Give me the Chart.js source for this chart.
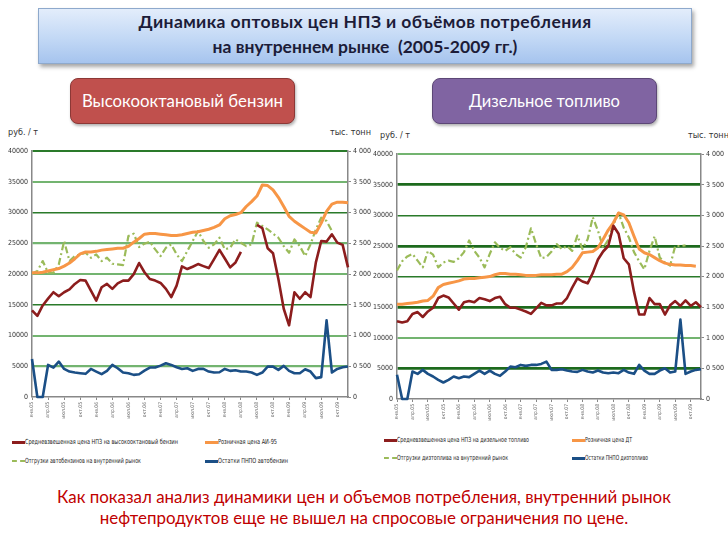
<!DOCTYPE html>
<html><head><meta charset="utf-8">
<script src="https://cdn.jsdelivr.net/npm/chart.js@4.4.1/dist/chart.umd.min.js"></script>
<style>
html,body{margin:0;padding:0;background:#fff;}
body{width:728px;height:546px;position:relative;overflow:hidden;font-family:Lato,"Open Sans",sans-serif;}
.abs{position:absolute;}
#title{left:38px;top:8px;width:654px;height:56px;box-sizing:border-box;border:1px solid #8ea9cc;background:linear-gradient(#e3edfb,#c2d8f5 55%,#a6c4ee);box-shadow:2px 3px 4px rgba(0,0,0,0.35);text-align:center;font-weight:bold;font-size:17.5px;line-height:25px;color:#1c1c38;padding-top:0px;}
#title .l1{letter-spacing:0.4px;}
.btn{top:78px;width:225px;height:46px;border-radius:8px;color:#fff;font-size:16.8px;line-height:44px;text-align:center;box-sizing:border-box;box-shadow:1px 2px 3px rgba(0,0,0,.3);}
#b1{left:70px;background:#c0504d;border:1.5px solid #8c3836;}
#b2{left:432px;background:#8064a2;border:1.5px solid #5c4776;font-size:16.5px;}
.ax{font-family:"Liberation Sans Narrow","DejaVu Sans Condensed",sans-serif;font-size:9px;color:#333;white-space:nowrap;}
.lg{position:absolute;font-family:"Liberation Sans Narrow","DejaVu Sans Condensed",sans-serif;font-size:7px;color:#222;white-space:nowrap;line-height:8px;transform-origin:0 50%;}
.sw{position:absolute;height:0;width:13px;}
#cap{left:0;top:486px;width:728px;text-align:center;color:#c00000;font-size:16.9px;line-height:21px;}
canvas{position:absolute;}
</style>
</head><body>
<div id="title" class="abs"><span class="l1">Динамика оптовых цен НПЗ и объёмов потребления</span><br>на внутреннем рынке&nbsp; (2005-2009 гг.)</div>
<div id="b1" class="abs btn">Высокооктановый бензин</div>
<div id="b2" class="abs btn">Дизельное топливо</div>

<div class="abs ax" style="left:8px;top:127px;">руб. / т</div>
<div class="abs ax" style="left:330px;top:127px;">тыс. тонн</div>
<div class="abs ax" style="left:380px;top:130px;">руб. / т</div>
<div class="abs ax" style="left:688px;top:130px;">тыс. тонн</div>

<canvas id="c1" width="372" height="290" style="left:0;top:143px;"></canvas>
<canvas id="c2" width="356" height="290" style="left:372px;top:146px;"></canvas>

<div id="legend"></div>

<div id="cap" class="abs">Как показал анализ динамики цен и объемов потребления, внутренний рынок<br>нефтепродуктов еще не вышел на спросовые ограничения по цене.</div>

<script>
// ---- categories ----
const MONTHS = ["янв","фев","мар","апр","май","июн","июл","авг","сен","окт","ноя","дек"];
const YEARS = ["05","06","07","08","09"];
const categories = [];
YEARS.forEach(y => MONTHS.forEach(m => categories.push(m + "." + y)));

// ---- tick labels ----
const priceTicks = [0,5000,10000,15000,20000,25000,30000,35000,40000];
const volumeTicks = [0,500,1000,1500,2000,2500,3000,3500,4000];

// ---- Высокооктановый бензин ----
const gasRefineryPrice = [14100,13200,14900,16000,17050,16400,17050,17500,18400,19050,
  18940,17300,15700,17860,18400,17600,18500,18940,18940,20000,
  21800,20300,19200,18940,18560,17600,16250,18130,21250,20820,
  21200,21630,21300,20980,22430,23940,22540,21090,21900,23620,
  null,null,28000,27500,24200,23400,19200,14360,11670,17050,
  15980,17050,16250,21900,25390,25290,26470,25120,24750,21090];
const gasRetailPrice = [20200,20200,20300,20500,20700,20900,21300,21800,22500,23300,
  23600,23600,23700,23900,24000,24100,24200,24200,24500,25200,
  25800,26500,26600,26600,26500,26400,26300,26300,26400,26600,
  26800,26900,27100,27300,27600,28000,29000,29500,29700,30000,
  31000,31800,32700,34500,34400,33700,32500,31000,29400,28600,
  28000,27400,26800,26700,28300,30200,31400,31700,31700,31600];
const gasShipments = [2005,2050,2212,2022,2022,2158,2538,2212,2293,2320,
  2348,2266,2320,2212,2266,2168,2158,2147,2620,2658,
  2440,2495,2527,2402,2293,2429,2484,2320,2212,2375,
  2538,2700,2538,2429,2484,2592,2402,2429,2565,2511,
  2456,2484,2837,2783,2728,2660,2592,2456,2348,2565,
  2456,2293,2484,2728,2918,2864,2700,null,null,null];
const gasStocks = [619,0,0,522,479,576,457,414,398,387,
  377,457,414,371,425,522,468,398,387,360,
  371,430,479,479,511,549,522,484,457,468,
  425,457,457,414,398,403,457,425,436,414,
  414,398,360,398,495,495,441,506,425,387,
  387,452,414,307,323,1248,398,457,484,495];

// ---- Дизельное топливо ----
const dieselRefineryPrice = [12700,12500,12700,13900,14200,13400,14300,14900,16500,16900,
  16600,15600,14600,15800,16000,15800,16500,16300,16000,16500,
  16700,15500,14900,14900,14600,14300,13900,14800,15700,15300,
  15300,15600,15600,16500,18200,19700,19200,18900,20600,22800,
  24100,25000,28300,27000,23000,22000,17500,13800,13800,16500,
  15500,15500,13800,15300,16000,15200,16100,15200,15800,15000];
const dieselRetailPrice = [15500,15500,15600,15700,15800,16000,16100,16800,18200,18700,
  18900,19100,19300,19600,19700,19700,19800,19900,20000,20300,
  20500,20500,20400,20400,20300,20200,20200,20200,20300,20300,
  20300,20400,20400,20800,21500,22600,23900,24000,24100,24700,
  26100,27600,28800,30400,30100,28800,26600,24500,23900,23600,
  23100,22600,22200,22000,21900,21900,21800,21800,21700,null];
const dieselShipments = [2100,2250,2330,2370,2260,2150,2420,2360,2150,2230,
  2260,2240,2300,2400,2590,2420,2310,2150,2370,2560,
  2470,2420,2480,2370,2310,2480,2790,2530,2300,2320,
  2410,2530,2450,2500,2420,2670,2450,2610,2970,2750,
  2470,2600,2850,3040,2800,2640,2400,2250,2120,2420,
  2660,2310,2230,2180,2500,2500,2510,null,null,null];
const dieselStocks = [395,0,0,449,411,476,411,368,313,270,
  313,368,340,368,357,411,465,411,465,411,
  378,449,530,519,557,541,557,557,573,611,
  476,476,486,465,449,443,476,449,432,465,
  432,422,432,422,476,432,411,557,465,411,
  411,465,503,432,449,1297,411,449,476,486];

// ---- legend names ----
const gasNames = ["Средневзвешенная цена НПЗ  на высокооктановый бензин","Розничная цена АИ-95","Отгрузки автобензинов на внутренний рынок","Остатки ПНПО автобензин"];
const dieselNames = ["Средневзвешенная цена НПЗ на дизельное топливо","Розничная цена ДТ","Отгрузки дизтоплива на внутренний рынок","Остатки ПНПО дизтопливо"];

const COL = {brown:"#8c1d1d", orange:"#f79646", green:"#9bbb59", blue:"#1b4f86"};
const FONT = "'Liberation Sans Narrow','DejaVu Sans Condensed',sans-serif";

function fmtVol(v){ if(v===0) return "0"; const t=Math.floor(v/1000), r=v%1000; return t+" "+String(r).padStart(3,"0"); }

function makeChart(id, names, d1, d2, d3, d4, geo, grid){
  new Chart(document.getElementById(id), {
    type:"line",
    data:{labels:categories, datasets:[
      {label:names[0], data:d1, yAxisID:"y", borderColor:COL.brown, borderWidth:2.6},
      {label:names[1], data:d2, yAxisID:"y", borderColor:COL.orange, borderWidth:3},
      {label:names[2], data:d3, yAxisID:"y1", borderColor:COL.green, borderWidth:2.2, borderDash:[7,3,2,3]},
      {label:names[3], data:d4, yAxisID:"y1", borderColor:COL.blue, borderWidth:2.6}
    ]},
    options:{
      responsive:false, animation:false,
      layout:{autoPadding:false, padding:{top:geo.top,left:0,right:0,bottom:0}},
      elements:{point:{radius:0}, line:{tension:0, borderJoinStyle:"round"}},
      plugins:{legend:{display:false}, tooltip:{enabled:false}},
      datasets:{line:{spanGaps:false, clip:4}},
      scales:{
        x:{offset:false,
           grid:{drawOnChartArea:false, drawTicks:true, tickLength:3, tickColor:(c)=> (c.index%3===0)?"#888":"rgba(0,0,0,0)"},
           border:{color:"#888", width:1.5},
           ticks:{autoSkip:false, maxRotation:90, minRotation:90, font:{family:FONT,size:5}, color:"#666", padding:2,
                  callback:(v,i)=> i%3===0 ? categories[i] : ""},
           afterFit:(s)=>{s.height=geo.xh;}},
        y:{position:"left", min:0, max:40000,
           afterBuildTicks:(s)=>{s.ticks=priceTicks.map(v=>({value:v}));},
           grid:{color:(c)=>grid[c.tick.value]?grid[c.tick.value][0]:"rgba(0,0,0,0)",
                 lineWidth:(c)=>grid[c.tick.value]?grid[c.tick.value][1]:0,
                 drawTicks:false},
           border:{color:"#888", width:1.5},
           ticks:{font:{family:FONT,size:7}, color:"#333", padding:4, callback:(v)=>String(v)},
           afterFit:(s)=>{s.width=geo.yl;}},
        y1:{position:"right", min:0, max:4000,
           afterBuildTicks:(s)=>{s.ticks=volumeTicks.map(v=>({value:v}));},
           grid:{drawOnChartArea:false, drawTicks:true, tickLength:3, tickColor:"#888"},
           border:{color:"#888", width:1.5},
           ticks:{font:{family:FONT,size:7}, color:"#333", padding:2, callback:(v)=>fmtVol(v)},
           afterFit:(s)=>{s.width=geo.yr;}}
      }
    }
  });
}

const L="#73b470", D="#2a7a2a", DD="#1d6a1d";
const gasGrid = {40000:[D,2],35000:[L,2],30000:[D,1.4],25000:[L,2.2],20000:[L,2],15000:[D,1.4],10000:[L,2],5000:[L,2.2]};
const dieselGrid = {40000:[L,2],35000:[DD,2.8],30000:[D,1.4],25000:[DD,2.8],20000:[D,1.4],15000:[DD,2.8],10000:[L,2],5000:[DD,2.8]};

makeChart("c1", gasNames, gasRefineryPrice, gasRetailPrice, gasShipments, gasStocks, {top:6, xh:36, yl:32, yr:24}, gasGrid);
makeChart("c2", dieselNames, dieselRefineryPrice, dieselRetailPrice, dieselShipments, dieselStocks, {top:7, xh:37, yl:25, yr:27}, dieselGrid);

// ---- HTML legends ----
function legend(names, widths, x1, x2, y1, y2){
  const host=document.getElementById("legend");
  const items=[[names[0],COL.brown,"solid",x1,y1,widths[0]],[names[1],COL.orange,"solid",x2,y1,widths[1]],[names[2],COL.green,"dashed",x1,y2,widths[2]],[names[3],COL.blue,"solid",x2,y2,widths[3]]];
  items.forEach(([t,c,s,x,y,w])=>{
    const sw=document.createElement("div"); sw.className="sw";
    sw.style.left=(x-13)+"px"; sw.style.top=(y-1.5)+"px";
    sw.style.borderTop=(s==="dashed"?"2px dashed ":"3px solid ")+c;
    host.appendChild(sw);
    const tx=document.createElement("div"); tx.className="lg";
    tx.style.left=x+"px"; tx.style.top=(y-4)+"px"; tx.textContent=t;
    host.appendChild(tx);
    const real=tx.getBoundingClientRect().width;
    if(real>0) tx.style.transform="scaleX("+(w/real).toFixed(3)+")";
  });
}
legend(gasNames, [153,59,116,70], 25, 218, 442, 461);
legend(dieselNames, [132,47,111,63], 397, 585, 440, 458);
</script>
</body></html>
